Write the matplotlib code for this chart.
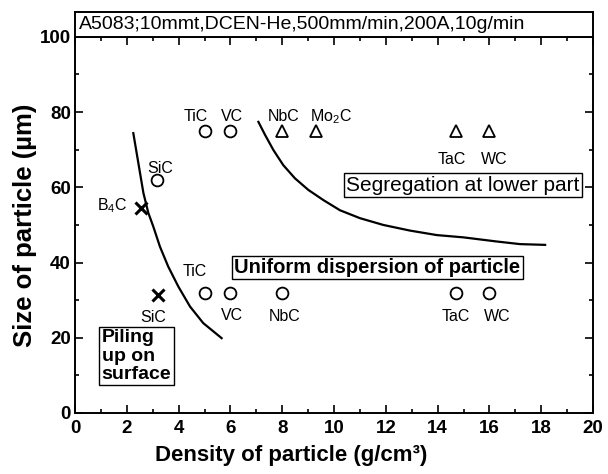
import matplotlib
matplotlib.use('Agg')
import matplotlib.pyplot as plt
from matplotlib.ticker import MultipleLocator

plt.rcParams['font.family'] = ['Liberation Sans', 'DejaVu Sans']
plt.rcParams['mathtext.fontset'] = 'custom'
plt.rcParams['mathtext.rm'] = 'Liberation Sans'

# uniform dispersion (circles)
circ_x = [3.15, 5.0, 6.0, 5.0, 6.0, 8.0, 14.7, 16.0]
circ_y = [62, 75, 75, 32, 32, 32, 32, 32]
# segregation (triangles)
tri_x = [8.0, 9.3, 14.7, 16.0]
tri_y = [75, 75, 75, 75]
# piling up (crosses)
cross_x = [2.55, 3.2]
cross_y = [54.5, 31.5]

# boundary curves
c1_x = [2.25, 2.38, 2.51, 2.64, 2.83, 3.02, 3.28, 3.60, 3.99, 4.44, 4.95, 5.66]
c1_y = [74.4, 69.1, 63.8, 58.5, 53.2, 49.6, 44.2, 38.9, 33.6, 28.3, 23.9, 19.9]
c2_x = [7.08, 7.34, 7.66, 8.04, 8.49, 9.01, 9.59, 10.23, 11.0, 11.9,
        12.93, 13.97, 14.99, 16.28, 17.18, 18.15]
c2_y = [77.4, 73.9, 69.9, 65.9, 62.4, 59.3, 56.6, 53.9, 51.8, 50.0,
        48.5, 47.3, 46.7, 45.6, 44.9, 44.7]

labels = [
    ('TiC', 4.67, 78.8), ('VC', 6.06, 78.8), ('NbC', 8.05, 78.8),
    ('Mo$_2$C', 9.9, 78.8), ('TaC', 14.55, 67.5), ('WC', 16.2, 67.5),
    ('SiC', 3.28, 65.0), ('B$_4$C', 1.42, 55.0), ('TiC', 4.63, 37.6),
    ('SiC', 3.02, 25.3), ('VC', 6.06, 25.8), ('NbC', 8.1, 25.6),
    ('TaC', 14.7, 25.6), ('WC', 16.3, 25.6),
]

fig = plt.figure(figsize=(6.08, 4.74), dpi=100)
ax = fig.add_axes([0.1234, 0.1287, 0.8520, 0.7935])
hdr = fig.add_axes([0.1234, 0.922, 0.8520, 0.0527])

ax.plot(c1_x, c1_y, color='black', lw=1.6)
ax.plot(c2_x, c2_y, color='black', lw=1.6)
ax.plot(circ_x, circ_y, 'o', ms=8.5, mfc='none', mec='black', mew=1.3)
ax.plot(tri_x, tri_y, '^', ms=8.5, mfc='none', mec='black', mew=1.3)
ax.plot(cross_x, cross_y, 'x', ms=9, color='black', mew=2.2)

for txt, x, y in labels:
    ax.text(x, y, txt, ha='center', va='center', fontsize=11.5)

box = dict(boxstyle='square,pad=0.12', fc='white', ec='black', lw=1)
ax.text(14.98, 60.6, 'Segregation at lower part', ha='center', va='center',
        fontsize=15, bbox=box)
ax.text(11.68, 38.7, 'Uniform dispersion of particle', ha='center', va='center',
        fontsize=14.5, fontweight='bold', bbox=box)
ax.text(1.03, 22.2, 'Piling\nup on\nsurface', ha='left', va='top',
        fontsize=14, fontweight='bold', linespacing=1.1, bbox=box)

ax.set_xlim(0, 20)
ax.set_ylim(0, 100)
ax.xaxis.set_major_locator(MultipleLocator(2))
ax.xaxis.set_minor_locator(MultipleLocator(1))
ax.yaxis.set_major_locator(MultipleLocator(20))
ax.yaxis.set_minor_locator(MultipleLocator(10))
ax.tick_params(which='both', direction='in', top=True, right=True, width=1.2)
ax.tick_params(which='major', length=6, labelsize=13.5)
ax.tick_params(axis='x', which='major', pad=5)
ax.tick_params(axis='y', which='major', pad=3)
ax.tick_params(which='minor', length=3)
for lab in ax.get_xticklabels() + ax.get_yticklabels():
    lab.set_fontweight('bold')
for s in ax.spines.values():
    s.set_linewidth(1.4)

ax.set_xlabel('Density of particle (g/cm³)', fontsize=16, fontweight='bold', labelpad=3)
ax.xaxis.set_label_coords(0.417, -0.085)
ax.set_ylabel('Size of particle (µm)', fontsize=18.5, fontweight='bold', labelpad=2)

hdr.set_xticks([])
hdr.set_yticks([])
for s in hdr.spines.values():
    s.set_linewidth(1.4)
hdr.text(0.008, 0.5, 'A5083;10mmt,DCEN-He,500mm/min,200A,10g/min',
         ha='left', va='center', fontsize=14, transform=hdr.transAxes)

fig.savefig('out.png', dpi=100)
